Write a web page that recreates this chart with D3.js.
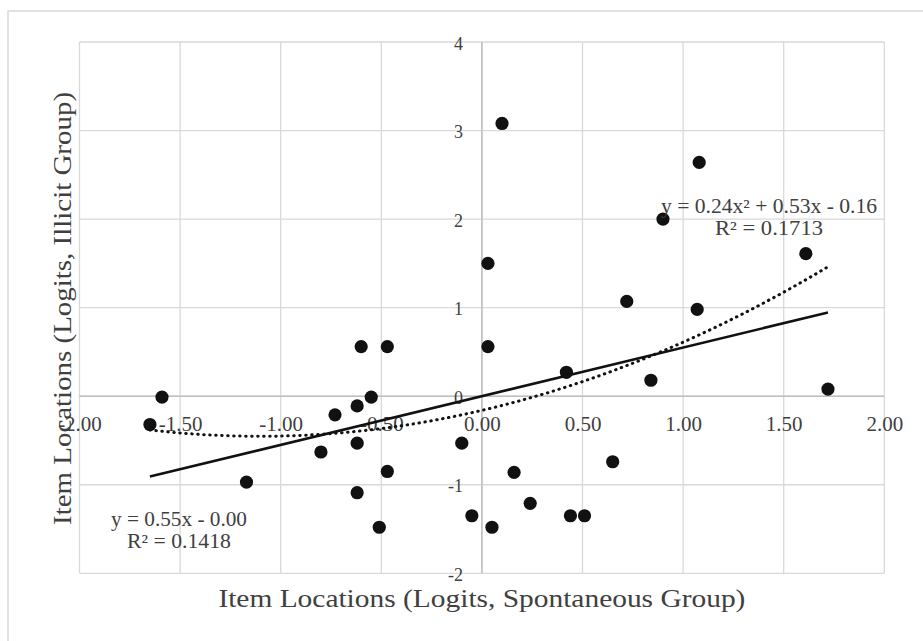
<!DOCTYPE html>
<html>
<head>
<meta charset="utf-8">
<script src="https://cdn.jsdelivr.net/npm/d3@7"></script>
<style>
  body { margin: 0; background: #fff; }
  text { font-family: "Liberation Serif", "DejaVu Serif", serif; fill: #404040; }
</style>
</head>
<body>
<svg id="chart" width="923" height="641"></svg>
<script>
// Item locations (logits)
const spontaneous = [0.10, 1.08, 0.90, 0.03, 1.61, 0.72, 1.07, 0.03, -0.60, -0.47, 0.42, 0.84, 1.72,
  -1.59, -0.55, -1.65, -0.62, -0.73, -0.62, -0.10, -0.80, 0.65, -0.47, 0.16, -1.17, -0.62, 0.24,
  -0.05, 0.44, 0.51, -0.51, 0.05];
const illicit = [3.08, 2.64, 2.00, 1.50, 1.61, 1.07, 0.98, 0.56, 0.56, 0.56, 0.27, 0.18, 0.08,
  -0.01, -0.01, -0.32, -0.11, -0.21, -0.53, -0.53, -0.63, -0.74, -0.85, -0.86, -0.97, -1.09, -1.21,
  -1.35, -1.35, -1.35, -1.48, -1.48];

// Axis ticks
const xTicks = [-2, -1.5, -1, -0.5, 0, 0.5, 1, 1.5, 2];
const yTicks = [-2, -1, 0, 1, 2, 3, 4];

// Trendline coefficients as printed on the chart
const linearFit = [0.55, 0.00];          // slope, intercept
const polyFit = [0.24, 0.53, -0.16];     // a, b, c
const linearLabel = ["y = 0.55x - 0.00", "R² = 0.1418"];
const polyLabel = ["y = 0.24x² + 0.53x - 0.16", "R² = 0.1713"];

const xTitle = "Item Locations (Logits, Spontaneous Group)";
const yTitle = "Item Locations (Logits, Illicit Group)";

var svg = d3.select("#chart"),
  margin = {top: 42, left: 79.5, bottom: 67.7, right: 38.7},
  width = +svg.attr("width"),
  height = +svg.attr("height");

let x = d3.scaleLinear().domain([-2, 2]).range([margin.left, width - margin.right]);
let y = d3.scaleLinear().domain([-2, 4]).range([height - margin.bottom, margin.top]);

// outer frame
svg.append("rect")
  .attr("x", 8).attr("y", 11)
  .attr("width", width).attr("height", height)
  .attr("fill", "none").attr("stroke", "#d9d9d9").attr("stroke-width", 1.5);

// gridlines
svg.append("g").selectAll("line").data(xTicks).enter().append("line")
  .attr("x1", d => x(d)).attr("x2", d => x(d))
  .attr("y1", y(4)).attr("y2", y(-2))
  .attr("stroke", "#d9d9d9").attr("stroke-width", 1.3);
svg.append("g").selectAll("line").data(yTicks).enter().append("line")
  .attr("x1", x(-2)).attr("x2", x(2))
  .attr("y1", d => y(d)).attr("y2", d => y(d))
  .attr("stroke", "#d9d9d9").attr("stroke-width", 1.3);

// axis lines through the origin
svg.append("line")
  .attr("x1", x(0)).attr("x2", x(0)).attr("y1", y(4)).attr("y2", y(-2))
  .attr("stroke", "#bfbfbf").attr("stroke-width", 1.5);
svg.append("line")
  .attr("x1", x(-2)).attr("x2", x(2)).attr("y1", y(0)).attr("y2", y(0))
  .attr("stroke", "#bfbfbf").attr("stroke-width", 1.5);

// x axis labels
let xAxis = svg.append("g")
  .attr("transform", `translate(0,${y(0)})`)
  .call(d3.axisBottom(x).tickValues(xTicks).tickSize(0).tickFormat(d => d.toFixed(2)));
xAxis.select(".domain").remove();
xAxis.selectAll("text")
  .attr("y", 35).attr("dy", 0)
  .style("font-size", "21px").style("font-family", "Liberation Serif").attr("fill", "#404040");

// y axis labels
let yAxis = svg.append("g")
  .attr("transform", `translate(${x(0)},0)`)
  .call(d3.axisLeft(y).tickValues(yTicks).tickSize(0).tickPadding(19).tickFormat(d => String(d)));
yAxis.select(".domain").remove();
yAxis.selectAll("text")
  .attr("dy", 7)
  .style("font-size", "18px").style("font-family", "Liberation Serif").attr("fill", "#404040");

// points
let points = spontaneous.map((d, i) => ({x: d, y: illicit[i]}));
svg.append("g").selectAll("circle").data(points).enter().append("circle")
  .attr("cx", d => x(d.x)).attr("cy", d => y(d.y))
  .attr("r", 6.6).attr("fill", "#111");

// trendlines over the data range
let xMin = d3.min(spontaneous), xMax = d3.max(spontaneous);
let samples = d3.range(0, 101).map(i => xMin + (xMax - xMin) * i / 100);
let line = d3.line().x(d => x(d[0])).y(d => y(d[1]));

svg.append("path")
  .attr("d", line([[xMin, linearFit[0] * xMin + linearFit[1]], [xMax, linearFit[0] * xMax + linearFit[1]]]))
  .attr("fill", "none").attr("stroke", "#111").attr("stroke-width", 2.5);

svg.append("path")
  .attr("d", line(samples.map(t => [t, polyFit[0] * t * t + polyFit[1] * t + polyFit[2]])))
  .attr("fill", "none").attr("stroke", "#111").attr("stroke-width", 3)
  .attr("stroke-linecap", "round").attr("stroke-dasharray", "0.5 5.5");

// trendline labels
function addLabel(lines, cx, base, widths) {
  svg.append("g").selectAll("text").data(lines).enter().append("text")
    .attr("x", cx).attr("y", (d, i) => base + i * 22)
    .attr("text-anchor", "middle")
    .attr("textLength", (d, i) => widths[i]).attr("lengthAdjust", "spacingAndGlyphs")
    .style("font-size", "20px")
    .text(d => d);
}
addLabel(polyLabel, 769, 213, [216, 108]);
addLabel(linearLabel, 179, 526, [136, 104]);

// axis titles
svg.append("text")
  .attr("x", (x(-2) + x(2)) / 2).attr("y", 607)
  .attr("text-anchor", "middle")
  .attr("textLength", 527).attr("lengthAdjust", "spacingAndGlyphs")
  .style("font-size", "25px")
  .text(xTitle);

svg.append("text")
  .attr("transform", "translate(71,308.5) rotate(-90)")
  .attr("text-anchor", "middle")
  .attr("textLength", 433).attr("lengthAdjust", "spacingAndGlyphs")
  .style("font-size", "25px")
  .text(yTitle);
</script>
</body>
</html>
